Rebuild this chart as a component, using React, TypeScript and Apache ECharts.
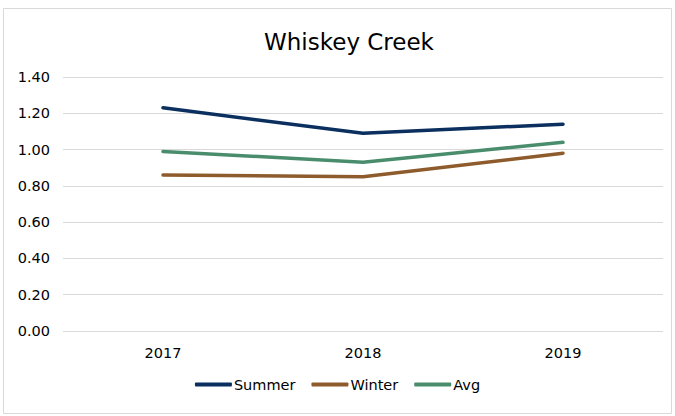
import React, { useEffect, useRef } from "react";
import * as echarts from "echarts";

const categories = ["2017", "2018", "2019"];
const summer = [1.23, 1.09, 1.14];
const winter = [0.86, 0.85, 0.98];
const avg = [0.99, 0.93, 1.04];
const seriesNames = ["Summer", "Winter", "Avg"];
const colors = ["#0B2F5E", "#8D5B2C", "#4A8D6D"];

export default function App() {
  const ref = useRef<HTMLDivElement>(null);
  useEffect(() => {
    if (!ref.current) return;
    const chart = echarts.init(ref.current, null, { renderer: "svg" });
    const font = "'DejaVu Sans', Tahoma, sans-serif";
    const data = [summer, winter, avg];
    chart.setOption({
      animation: false,
      backgroundColor: "#ffffff",
      title: {
        text: "Whiskey Creek",
        left: 344,
        textAlign: "center",
        top: 25,
        textStyle: { fontFamily: font, fontSize: 23, fontWeight: "normal", color: "#000" },
      },
      graphic: [
        {
          type: "rect",
          shape: { x: 3.5, y: 8.5, width: 668, height: 405 },
          style: { fill: "none", stroke: "#d9d9d9", lineWidth: 1 },
          silent: true,
        },
      ],
      legend: {
        data: seriesNames,
        bottom: 19,
        left: "center",
        itemWidth: 37,
        itemHeight: 4,
        itemGap: 16,
        icon: "roundRect",
        textStyle: { fontFamily: font, fontSize: 14.5, color: "#000", padding: [0, 0, 0, -3] },
      },
      grid: { left: 63, right: 12, top: 77, bottom: 85, containLabel: false },
      xAxis: {
        type: "category",
        data: categories,
        boundaryGap: true,
        axisLine: { show: false },
        axisTick: { show: false },
        axisLabel: { fontFamily: font, fontSize: 14.5, color: "#000", margin: 14 },
      },
      yAxis: {
        type: "value",
        min: 0,
        max: 1.4,
        interval: 0.2,
        axisLine: { show: false },
        axisTick: { show: false },
        axisLabel: {
          fontFamily: font,
          fontSize: 14.5,
          color: "#000",
          margin: 13,
          formatter: (v: number) => v.toFixed(2),
        },
        splitLine: { lineStyle: { color: "#d9d9d9", width: 1 } },
      },
      series: seriesNames.map((n, i) => ({
        name: n,
        type: "line",
        data: data[i],
        symbol: "none",
        lineStyle: { width: 3.5, color: colors[i], cap: "round", join: "round" },
        itemStyle: { color: colors[i] },
      })),
    });
    return () => chart.dispose();
  }, []);
  return (
    <div
      ref={ref}
      style={{ position: "absolute", left: 0, top: 0, width: 675, height: 416 }}
    />
  );
}
